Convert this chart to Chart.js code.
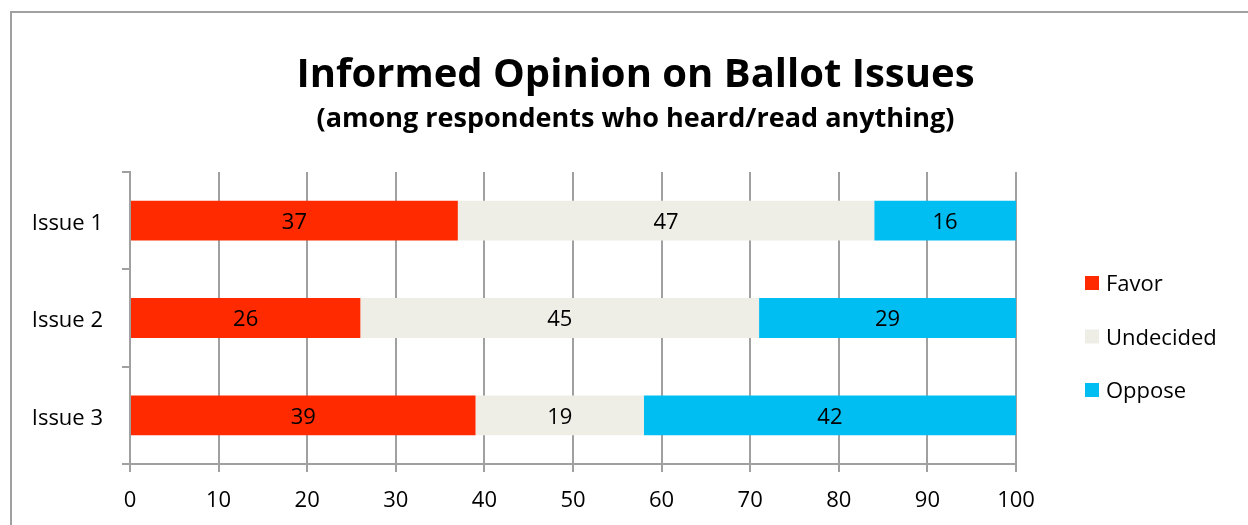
<!DOCTYPE html>
<html>
<head>
<meta charset="utf-8">
<script src="https://cdn.jsdelivr.net/npm/chart.js@4/dist/chart.umd.min.js"></script>
<style>
  html, body { margin: 0; padding: 0; background: #fff; overflow: hidden; }
  #wrap { position: relative; width: 1248px; height: 525px; }
  #frame { position: absolute; left: 10px; top: 11px; width: 1300px; height: 600px;
           border: 2px solid #a0a0a0; box-sizing: border-box; pointer-events: none; }
  canvas { position: absolute; left: 0; top: 0; }
</style>
</head>
<body>
<div id="wrap">
  <canvas id="chart" width="1248" height="525"></canvas>
  <div id="frame"></div>
</div>
<script>
const categories = ['Issue 1', 'Issue 2', 'Issue 3'];
const seriesNames = ['Favor', 'Undecided', 'Oppose'];
const favor = [37, 26, 39];
const undecided = [47, 45, 19];
const oppose = [16, 29, 42];
const xTicks = [0, 10, 20, 30, 40, 50, 60, 70, 80, 90, 100];
const seriesColors = ['#ff2a00', '#eeeee6', '#00bdf2'];

const FONT = "'Open Sans', 'DejaVu Sans', sans-serif";
const GRID = '#a0a0a0';

Chart.defaults.font.family = FONT;
Chart.defaults.color = '#000';

// values written in the middle of each bar segment
const segmentLabels = {
  id: 'segmentLabels',
  afterDatasetsDraw(chart) {
    const ctx = chart.ctx;
    ctx.save();
    ctx.font = '22px ' + FONT;
    ctx.fillStyle = '#000';
    ctx.textAlign = 'center';
    ctx.textBaseline = 'middle';
    chart.data.datasets.forEach((ds, i) => {
      chart.getDatasetMeta(i).data.forEach((bar, j) => {
        const p = bar.getCenterPoint();
        ctx.fillText(String(ds.data[j]), p.x, p.y + 2);
      });
    });
    ctx.restore();
  }
};

// vertical legend in the reserved space on the right
const sideLegend = {
  id: 'sideLegend',
  afterDraw(chart) {
    const ctx = chart.ctx;
    ctx.save();
    ctx.font = '22px ' + FONT;
    ctx.textAlign = 'left';
    ctx.textBaseline = 'middle';
    const x = 1085, y0 = 283, step = 53.5, box = 14;
    chart.data.datasets.forEach((ds, i) => {
      const y = y0 + i * step;
      ctx.fillStyle = ds.backgroundColor;
      ctx.fillRect(x, y - box / 2, box, box);
      ctx.fillStyle = '#000';
      ctx.fillText(ds.label, x + 21, y + 2);
    });
    ctx.restore();
  }
};

new Chart(document.getElementById('chart'), {
  type: 'bar',
  data: {
    labels: categories,
    datasets: [
      { label: seriesNames[0], data: favor, backgroundColor: seriesColors[0] },
      { label: seriesNames[1], data: undecided, backgroundColor: seriesColors[1] },
      { label: seriesNames[2], data: oppose, backgroundColor: seriesColors[2] }
    ]
  },
  options: {
    indexAxis: 'y',
    responsive: false,
    animation: false,
    events: [],
    datasets: { bar: { categoryPercentage: 1, barPercentage: 0.41, borderWidth: 0 } },
    layout: { padding: { left: 23, right: 0, top: 0, bottom: 0 } },
    plugins: {
      legend: { display: false },
      tooltip: { enabled: false },
      title: {
        display: true,
        text: 'Informed Opinion on Ballot Issues',
        font: { size: 40, weight: 'bold', lineHeight: 1.2 },
        color: '#000',
        padding: { top: 52, bottom: 0 }
      },
      subtitle: {
        display: true,
        text: '(among respondents who heard/read anything)',
        font: { size: 27, weight: 'bold', lineHeight: 1.2 },
        color: '#000',
        padding: { top: 3, bottom: 36.6 }
      }
    },
    scales: {
      x: {
        stacked: true,
        min: 0,
        max: 100,
        afterBuildTicks(axis) { axis.ticks = xTicks.map(v => ({ value: v })); },
        afterFit(axis) { axis.height = 61; },
        ticks: { font: { size: 22 }, color: '#000', padding: 16, maxRotation: 0 },
        grid: { color: GRID, lineWidth: 2, tickLength: 8, drawTicks: true },
        border: { display: true, color: GRID, width: 2 }
      },
      y: {
        stacked: true,
        afterFit(axis) { axis.width = 107; },
        ticks: { font: { size: 22 }, color: '#000', padding: 19, labelOffset: 3 },
        grid: { offset: true, drawOnChartArea: false, drawTicks: true, tickLength: 8, color: GRID, lineWidth: 2 },
        border: { display: true, color: GRID, width: 2 }
      },
      // empty scale that reserves the strip holding the legend
      legendSpace: {
        type: 'linear',
        position: 'right',
        axis: 'y',
        afterFit(axis) { axis.width = 232; },
        ticks: { display: false },
        grid: { display: false },
        border: { display: false }
      }
    }
  },
  plugins: [segmentLabels, sideLegend]
});
</script>
</body>
</html>
